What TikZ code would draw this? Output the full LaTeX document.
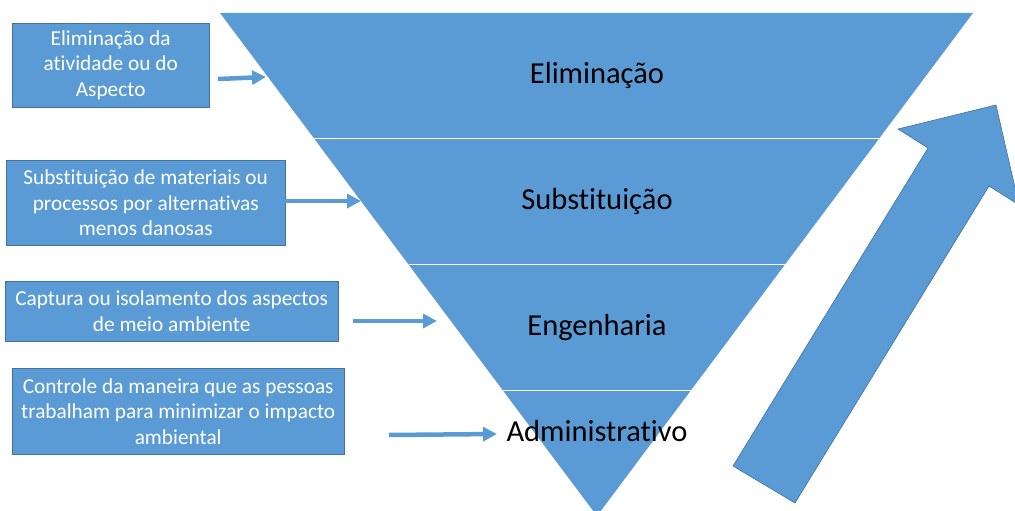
\documentclass[tikz,border=0pt]{standalone}
\usepackage{fontspec}
\setmainfont{Carlito}[Ligatures=NoCommon]
\usetikzlibrary{positioning,calc,arrows.meta}
\definecolor{officeblue}{HTML}{5B9BD5}
\definecolor{officeline}{HTML}{41719C}

\begin{document}
\begin{tikzpicture}[
    x=1pt, y=-1pt,
    infobox/.style={rectangle, draw=officeline, fill=officeblue, text=white, align=center, inner sep=0pt, anchor=north west, font=\fontsize{21.3}{25.5}\selectfont},
    level/.style={text=black, font=\fontsize{30.5}{36}\selectfont},
    arrow/.style={-{Triangle[length=14pt,width=14pt]}, line width=4.5pt, draw=officeblue},
    bigarrow/.style={fill=officeblue, draw=officeline, line width=0.6pt, line join=miter}
]
\useasboundingbox (0,0) rectangle (1015,511);

% Inverted triangle
\coordinate (tl) at (220,13);
\coordinate (tr) at (973,13);
\coordinate (apex) at (597,516);
\fill[officeblue] (tl) -- (tr) -- (apex) -- cycle;
\foreach \t in {0.25,0.5,0.75}
    \draw[white, line width=1pt] ($(tl)!\t!(apex)$) -- ($(tr)!\t!(apex)$);

% Levels
\node[level] (elim) at (597,75) {Eliminação};
\node[level] (subst) at (597,201) {Substituição};
\node[level] (eng) at (597,328) {Engenharia};
\node[level] (admin) at (597,431) {Administrativo};

% Description boxes
\node[infobox, minimum width=197pt, minimum height=84pt] (box1) at (12,23) {Eliminação da\\atividade ou do\\Aspecto};
\node[infobox, minimum width=279pt, minimum height=85pt] (box2) at (6,160) {Substituição de materiais ou\\processos por alternativas\\menos danosas};
\node[infobox, minimum width=333pt, minimum height=60pt] (box3) at (5,281) {Captura ou isolamento dos aspectos\\de meio ambiente};
\node[infobox, minimum width=332pt, minimum height=86pt] (box4) at (12,368) {Controle da maneira que as pessoas\\trabalham para minimizar o impacto\\ambiental};

% Arrow ends
\coordinate (from1) at (218,79);
\coordinate (to1) at (266,77);
\coordinate (from2) at (285,201);
\coordinate (to2) at (361,201);
\coordinate (from3) at (353,321);
\coordinate (to3) at (437,321);
\coordinate (from4) at (389,435);
\coordinate (to4) at (497,434);

\draw[arrow] (from1) -- (to1);
\draw[arrow] (from2) -- (to2);
\draw[arrow] (from3) -- (to3);
\draw[arrow] (from4) -- (to4);

% Big arrow
\draw[bigarrow] (733,466) -- (928,148) -- (898,129) -- (996,105) -- (1019,205) -- (989,186) -- (795,503) -- cycle;

\end{tikzpicture}
\end{document}
